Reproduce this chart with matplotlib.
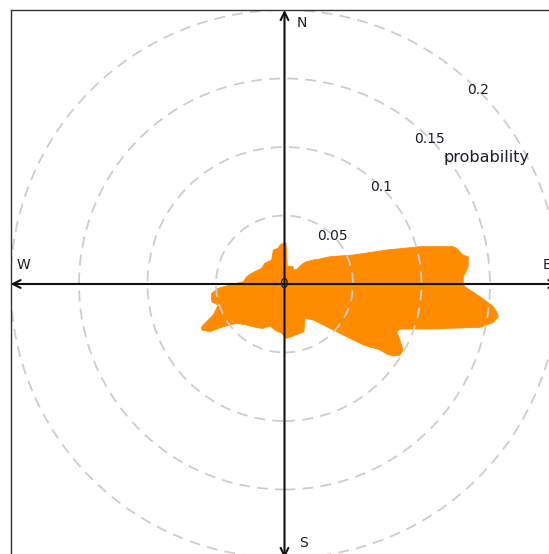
import numpy as np
import matplotlib
matplotlib.use("Agg")
import matplotlib.pyplot as plt
from matplotlib.patches import Circle

# Directional probability outline: bearing (degrees clockwise from north) and probability
direction_deg = [2.1, 8.8, 26.2, 32.2, 39.7, 42.2, 44.9, 50.2, 54.8, 59.0,
                 67.1, 71.6, 74.6, 77.5, 78.3, 80.8, 81.6, 84.6, 87.7, 90.0,
                 90.9, 93.7, 96.2, 97.4, 98.7, 100.4, 102.5, 105.3, 106.1, 111.3,
                 113.0, 115.9, 119.1, 121.6, 123.6, 124.4, 124.6, 127.7, 130.3, 133.3,
                 137.9, 141.3, 149.1, 157.8, 162.5, 170.4, 177.7, 183.3, 191.7, 199.0,
                 206.3, 215.3, 222.7, 230.6, 233.0, 235.1, 237.4, 240.9, 242.6, 243.7,
                 246.5, 252.4, 256.3, 262.7, 266.3, 268.9, 273.2, 280.9, 288.1, 304.5,
                 316.7, 331.9, 341.8, 350.1, 353.4, 358.3]
probability = [0.0300, 0.0133, 0.0141, 0.0121, 0.0139, 0.0204, 0.0230, 0.0274, 0.0317, 0.0387,
               0.0543, 0.0786, 0.1026, 0.1260, 0.1284, 0.1320, 0.1356, 0.1347, 0.1306, 0.1305,
               0.1318, 0.1430, 0.1533, 0.1562, 0.1579, 0.1550, 0.1462, 0.1227, 0.1182, 0.0905,
               0.0890, 0.0937, 0.0990, 0.0990, 0.0950, 0.0904, 0.0847, 0.0727, 0.0595, 0.0490,
               0.0387, 0.0336, 0.0292, 0.0376, 0.0377, 0.0385, 0.0397, 0.0360, 0.0343, 0.0324,
               0.0362, 0.0385, 0.0407, 0.0452, 0.0498, 0.0545, 0.0646, 0.0691, 0.0681, 0.0647,
               0.0567, 0.0507, 0.0547, 0.0536, 0.0484, 0.0398, 0.0301, 0.0281, 0.0252, 0.0202,
               0.0208, 0.0199, 0.0261, 0.0264, 0.0287, 0.0297]

ring_levels = [0.05, 0.1, 0.15, 0.2]
ring_labels = ["0.05", "0.1", "0.15", "0.2"]
compass_labels = ["N", "E", "S", "W"]
compass_bearings = [0, 90, 180, 270]

font = "DejaVu Sans"
text_color = "#1c1c2c"
fig = plt.figure(figsize=(5.49, 5.54), dpi=100)
ax = fig.add_axes([10.5 / 549, 1 - 558 / 554, 548 / 549, 548 / 554])
lim = 0.2
ax.set_xlim(-lim, lim)
ax.set_ylim(-lim, lim)
ax.set_xticks([])
ax.set_yticks([])
for sp in ax.spines.values():
    sp.set_color("#333333")
    sp.set_linewidth(1.0)

# filled probability outline
theta = np.deg2rad(direction_deg)
p = np.asarray(probability)
ax.fill(p * np.sin(theta), p * np.cos(theta), color="#FF8C00", lw=0.6,
        ec="#FF8C00", zorder=1)

# dashed reference rings
for r in ring_levels:
    ax.add_patch(Circle((0, 0), r, fill=False, ec="#cdcdcd", lw=1.3,
                        ls=(0, (6, 4)), zorder=2))

# compass axes with arrowheads
for b in compass_bearings:
    t = np.deg2rad(b)
    ax.annotate("", xy=(lim * np.sin(t), lim * np.cos(t)), xytext=(0, 0),
                arrowprops=dict(arrowstyle="->", lw=1.5, color="#111111",
                                shrinkA=0, shrinkB=0, mutation_scale=14),
                zorder=3, annotation_clip=False)

label_pos = {"N": (0.0124, 0.1905), "E": (0.1915, 0.0139),
             "S": (0.0139, -0.189), "W": (-0.1905, 0.0139)}
for lab in compass_labels:
    x, y = label_pos[lab]
    ax.text(x, y, lab, ha="center", va="center", fontsize=10,
            family=font, color=text_color, zorder=4)

# ring value labels along the 45 degree line
c45 = np.cos(np.deg2rad(45))
for r, lab in zip(ring_levels, ring_labels):
    ax.text(r * c45, r * c45, lab, ha="center", va="center", fontsize=10,
            family=font, color=text_color, zorder=4)
ax.text(-0.001, 0, "0", ha="center", va="center", fontsize=10, family=font,
        color=text_color, zorder=4)
ax.text(0.1478, 0.0925, "probability", ha="center", va="center", fontsize=11.5,
        family=font, color=text_color, zorder=4)

fig.savefig("out.png", dpi=100)
